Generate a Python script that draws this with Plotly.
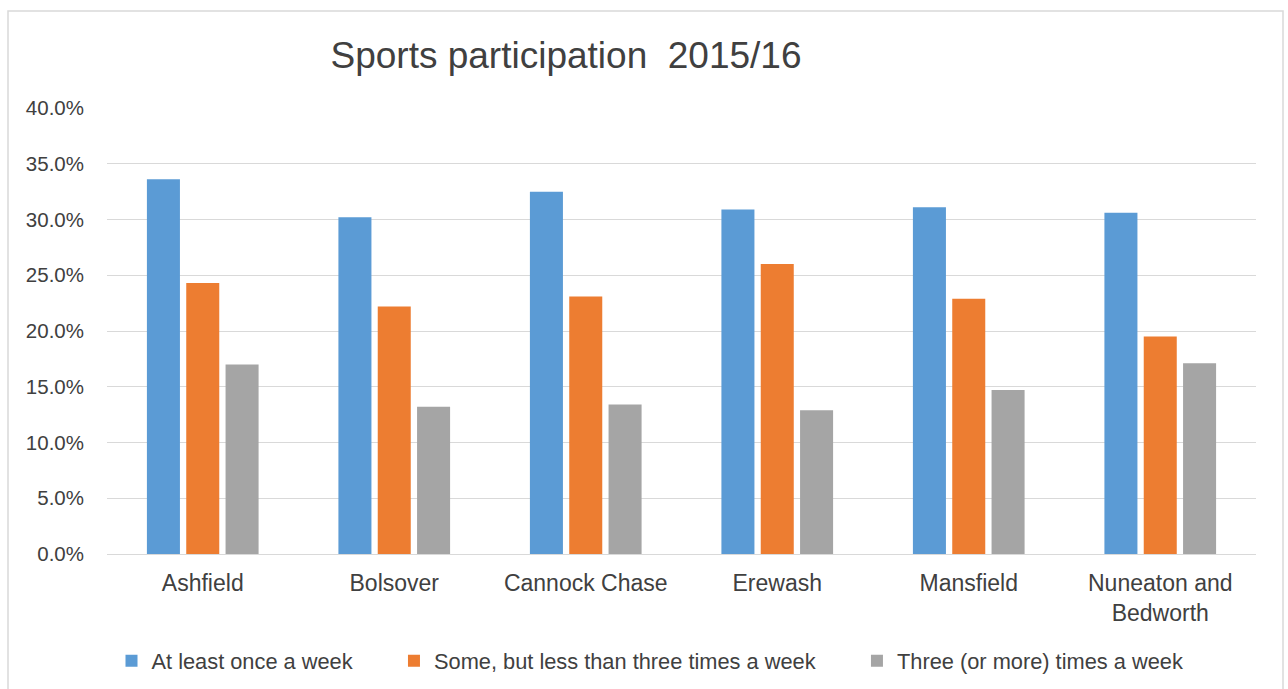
import plotly.graph_objects as go

categories = ["Ashfield", "Bolsover", "Cannock Chase", "Erewash", "Mansfield", "Nuneaton and<br>Bedworth"]
series_names = [
    "At least once a week",
    "Some, but less than three times a week",
    "Three (or more) times a week",
]
once_a_week = [0.336, 0.302, 0.325, 0.309, 0.311, 0.306]
some_less_three = [0.243, 0.222, 0.231, 0.260, 0.229, 0.195]
three_or_more = [0.170, 0.132, 0.134, 0.129, 0.147, 0.171]
y_ticks = [0.0, 0.05, 0.10, 0.15, 0.20, 0.25, 0.30, 0.35, 0.40]

colors = ["#5B9BD5", "#ED7D31", "#A5A5A5"]
values = [once_a_week, some_less_three, three_or_more]
legend_labels = [series_names[0] + "\u00a0" * 6, series_names[1] + "\u00a0" * 6, series_names[2]]

fig = go.Figure()
for name, vals, col in zip(legend_labels, values, colors):
    fig.add_trace(go.Bar(x=categories, y=vals, name=name,
                         marker=dict(color=col, line=dict(width=0))))

W, H = 1288, 689
ml, mr, mt, mb = 107, 32, 108, 135
pw, ph = W - ml - mr, H - mt - mb

fig.update_layout(
    width=W, height=H,
    margin=dict(l=ml, r=mr, t=mt, b=mb, autoexpand=False),
    paper_bgcolor="white", plot_bgcolor="white",
    font=dict(family="Liberation Sans, Arial, sans-serif", color="#404040"),
    barmode="group", bargap=0.384, bargroupgap=0.16,
    title=dict(text="Sports participation\u00a0\u00a02015/16",
               font=dict(size=37, color="#404040"),
               x=566 / W, xanchor="center", xref="container",
               y=1 - 55 / H, yanchor="middle", yref="container"),
    legend=dict(orientation="h", x=(650 - ml) / pw, xanchor="center",
                y=(H - mb - 661) / ph, yanchor="middle",
                font=dict(size=21.8, color="#404040"),
                bgcolor="rgba(0,0,0,0)"),
    showlegend=True,
)
fig.update_xaxes(showgrid=False, showline=False, ticks="", automargin=False,
                 tickfont=dict(size=23, color="#404040"),
                 ticklabelstandoff=13)
fig.update_yaxes(range=[0, 0.4], tickvals=y_ticks, tickformat=".1%", automargin=False,
                 showgrid=True, gridcolor="#D9D9D9", gridwidth=1.3,
                 zeroline=True, zerolinecolor="#D9D9D9", zerolinewidth=1.3,
                 showline=False, ticks="",
                 tickfont=dict(size=20.5, color="#404040"),
                 ticklabelstandoff=22)

fig.add_shape(type="rect", xref="paper", yref="paper",
              x0=(8 - ml) / pw, x1=(1283 - ml) / pw,
              y0=(H - mb - 720) / ph, y1=(H - mb - 11) / ph,
              line=dict(color="#D9D9D9", width=1.5), fillcolor="rgba(0,0,0,0)",
              layer="below")

fig.write_html("out.html", config={"displayModeBar": False},
               post_script="document.body.style.margin='0';document.body.style.overflow='hidden';")
